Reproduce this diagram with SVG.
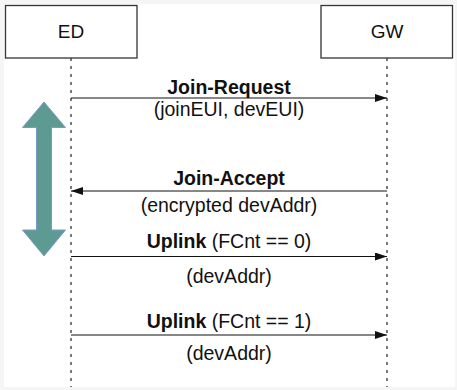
<svg xmlns="http://www.w3.org/2000/svg" width="457" height="390" viewBox="0 0 457 390">
  <style>
    .box { fill: #ffffff; stroke: #333333; stroke-width: 1.3; }
    .life { stroke: #333333; stroke-width: 1.3; stroke-dasharray: 3 5; fill: none; }
    .msg { stroke: #111111; stroke-width: 1.2; fill: none; }
    text { font-family: "Liberation Sans", Arial, Helvetica, sans-serif; font-size: 19.5px; fill: #111111; text-anchor: middle; }
    .name { font-size: 19px; }
    .b { font-weight: bold; }
  </style>
  <defs>
    <marker id="head" viewBox="0 0 12 8" refX="12" refY="4" markerWidth="12" markerHeight="8" markerUnits="userSpaceOnUse" orient="auto">
      <path d="M0,0 L12,4 L0,8 Z" fill="#111111"/>
    </marker>
  </defs>

  <!-- page -->
  <rect x="0" y="0" width="457" height="390" fill="#f5f5f5"/>
  <rect x="4" y="4" width="451" height="383" fill="#ffffff"/>

  <!-- participants -->
  <g id="ed">
    <rect class="box" x="5.5" y="5.5" width="131.5" height="52.5"/>
    <text class="name" x="71" y="38">ED</text>
  </g>
  <g id="gw">
    <rect class="box" x="321" y="5.5" width="131.5" height="52.5"/>
    <text class="name" x="387" y="38">GW</text>
  </g>

  <!-- lifelines -->
  <g id="lifelines">
    <line class="life" x1="71" y1="58" x2="71" y2="387"/>
    <line class="life" x1="387" y1="58" x2="387" y2="387"/>
  </g>

  <!-- double-headed span arrow -->
  <g id="span-arrow">
    <path d="M44,102 L65.5,127.5 L51.5,127.5 L51.5,230 L65.5,230 L44,256 L22.5,230 L36.5,230 L36.5,127.5 L22.5,127.5 Z" fill="#5c9a92" stroke="#7a9bc9" stroke-width="1"/>
  </g>

  <!-- messages -->
  <g id="connectors">
    <line class="msg" x1="71" y1="98" x2="387" y2="98" marker-end="url(#head)"/>
    <line class="msg" x1="387" y1="191" x2="71" y2="191" marker-end="url(#head)"/>
    <line class="msg" x1="71" y1="256.5" x2="387" y2="256.5" marker-end="url(#head)"/>
    <line class="msg" x1="71" y1="335" x2="387" y2="335" marker-end="url(#head)"/>
  </g>

  <g id="labels">
    <text class="b" x="229" y="94">Join-Request</text>
    <text x="229" y="115.5">(joinEUI, devEUI)</text>
    <text class="b" x="229" y="185">Join-Accept</text>
    <text x="229" y="211.5">(encrypted devAddr)</text>
    <text x="229" y="248"><tspan class="b">Uplink</tspan> (FCnt == 0)</text>
    <text x="229" y="283">(devAddr)</text>
    <text x="229" y="328"><tspan class="b">Uplink</tspan> (FCnt == 1)</text>
    <text x="229" y="360">(devAddr)</text>
  </g>
</svg>
